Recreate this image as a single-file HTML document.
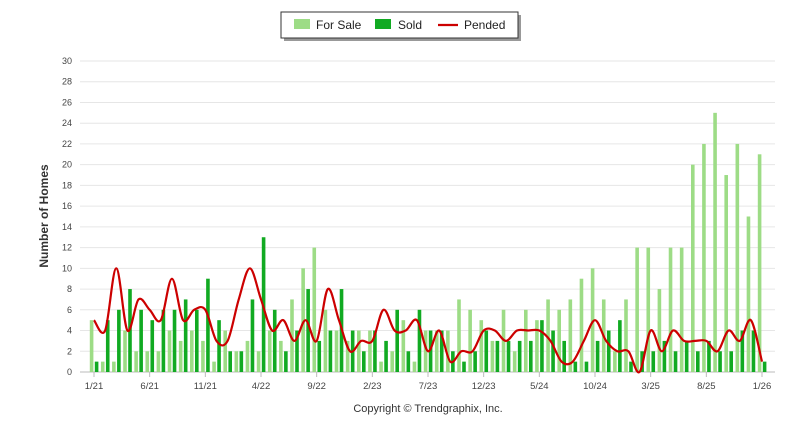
<!DOCTYPE html>
<html><head><meta charset="utf-8"><style>
body{margin:0;background:#fff;font-family:"Liberation Sans",sans-serif}
svg{display:block}
</style></head><body>
<svg id="chart" width="800" height="434"></svg>
<script>
const months=["1/21","6/21","11/21","4/22","9/22","2/23","7/23","12/23","5/24","10/24","3/25","8/25","1/26"];
const forSale=[5,1,1,4,2,2,2,4,3,4,3,1,4,2,3,2,4,3,7,10,12,6,4,3,4,4,1,2,5,1,4,4,4,7,6,5,3,6,2,6,5,7,6,7,9,10,7,2,7,12,12,8,12,12,20,22,25,19,22,15,21];
const sold=[1,5,6,8,6,5,6,6,7,6,9,5,2,2,7,13,6,2,4,8,3,4,8,4,2,4,3,6,2,6,4,4,2,1,2,4,3,3,3,3,5,4,3,1,1,3,4,5,1,2,2,3,2,3,2,3,2,2,4,4,1];
const pended=[5,4,10,4,7,6,5,9,5,6,6,3,3,7,10,7,4,5,3,5,3,8,5,2,3,3,6,4,4,5,2,4,1,2,2,4,4,3,4,4,4,3,1,1,3,5,3,2,2,0,4,2,4,3,3,3,2,4,3,5,1];
const yTicks=[0,2,4,6,8,10,12,14,16,18,20,22,24,26,28,30];
const NS="http://www.w3.org/2000/svg";
const svg=document.getElementById('chart');
const X0=94,X1=762,Y0=372,Y1=61,YMAX=30;
const xs=i=>X0+(X1-X0)*i/(forSale.length-1);
const ys=v=>Y0-(Y0-Y1)*v/YMAX;
function mk(t,a,p){const e=document.createElementNS(NS,t);for(const k in a)e.setAttribute(k,a[k]);(p||svg).appendChild(e);return e;}
yTicks.forEach(v=>{
 const g=mk('line',{x1:80,x2:775,y1:ys(v),y2:ys(v),stroke:v===0?'#bbb':'#e6e6e6','stroke-width':1});
 
 
 const t=mk('text',{x:72,y:ys(v)+3,'text-anchor':'end','font-size':9,fill:'#444'});
 t.textContent=v;
 
 
});
months.forEach((m,k)=>{
 const x=xs(k*5);
 const tk=mk('line',{x1:x,x2:x,y1:Y0,y2:Y0+5,stroke:'#bbb'});
 
 
 const t=mk('text',{x:x,y:389,'text-anchor':'middle','font-size':9.5,fill:'#444'});
 t.textContent=m;
 
 
});
forSale.forEach((v,i)=>{
 const c=xs(i);
 const b=mk('rect',{x:c-4.2,y:ys(v),width:3.6,height:Y0-ys(v),fill:'#9ddc86'});
 
 
 const s=mk('rect',{x:c+0.8,y:ys(sold[i]),width:3.6,height:Y0-ys(sold[i]),fill:'#11aa22'});
 
 
});
const P=pended.map((v,i)=>[xs(i),ys(v)]);
let d=`M${P[0][0]},${P[0][1]}`;
for(let i=0;i<P.length-1;i++){
 const p0=P[Math.max(0,i-1)],p1=P[i],p2=P[i+1],p3=P[Math.min(P.length-1,i+2)];
 const c1=[p1[0]+(p2[0]-p0[0])/6,p1[1]+(p2[1]-p0[1])/6];
 const c2=[p2[0]-(p3[0]-p1[0])/6,p2[1]-(p3[1]-p1[1])/6];
 d+=` C${c1[0]},${c1[1]} ${c2[0]},${c2[1]} ${p2[0]},${p2[1]}`;
}
const line=mk('path',{d:d,fill:'none',stroke:'#cc0000','stroke-width':2.2});


const yt=mk('text',{x:0,y:0,transform:'translate(48,216) rotate(-90)','text-anchor':'middle','font-size':12,'font-weight':'bold',fill:'#333'});
yt.textContent='Number of Homes';


const cp=mk('text',{x:428,y:412,'text-anchor':'middle','font-size':11,fill:'#333'});
cp.textContent='Copyright © Trendgraphix, Inc.';


const lg=mk('g',{});


mk('rect',{x:284,y:15,width:237,height:26,fill:'#999'},lg);
mk('rect',{x:281,y:12,width:237,height:26,fill:'#fff',stroke:'#333','stroke-width':1},lg);
const e1=mk('g',{},lg);


mk('rect',{x:294,y:19,width:16,height:10,fill:'#9ddc86'},e1);
const t1=mk('text',{x:316,y:29,'font-size':12,fill:'#222'},e1);t1.textContent='For Sale';
const e2=mk('g',{},lg);


mk('rect',{x:375,y:19,width:16,height:10,fill:'#11aa22'},e2);
const t2=mk('text',{x:398,y:29,'font-size':12,fill:'#222'},e2);t2.textContent='Sold';
const e3=mk('g',{},lg);


mk('line',{x1:438,x2:458,y1:25,y2:25,stroke:'#cc0000','stroke-width':2.2},e3);
const t3=mk('text',{x:464,y:29,'font-size':12,fill:'#222'},e3);t3.textContent='Pended';
</script>
</body></html>
